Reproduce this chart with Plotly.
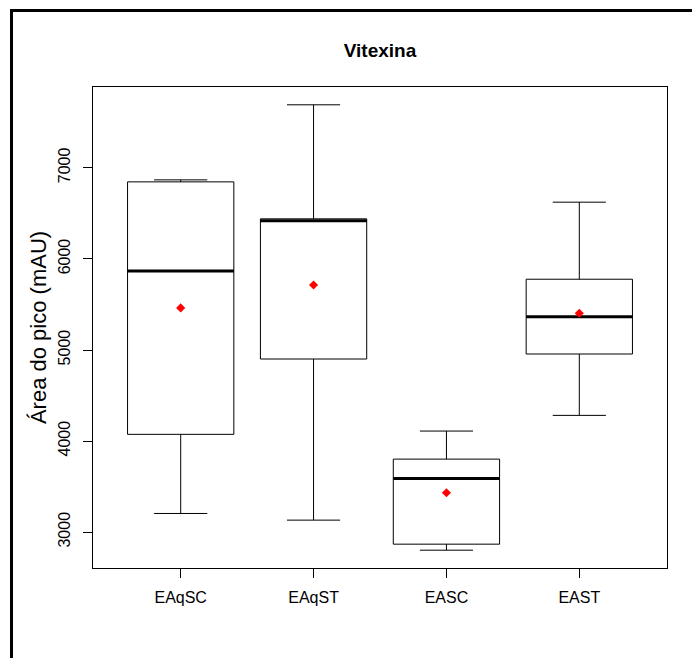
import plotly.graph_objects as go

# Vitexina peak area per extract
groups = ['EAqSC', 'EAqST', 'EASC', 'EAST']
positions = [1, 2, 3, 4]
lower = [3205, 3132, 2802, 4282]
q1 = [4074, 4901, 2868, 4956]
median = [5868, 6418, 3590, 5366]
q3 = [6846, 6440, 3802, 5777]
upper = [6868, 7692, 4110, 6623]
means = [5462, 5714, 3432, 5403]
y_ticks = [3000, 4000, 5000, 6000, 7000]

FONT = 'Liberation Sans'
BOX_W = 0.8

# plot area in figure pixels (the page adds an 8px body margin)
L, R, T, B = 85, 41, 79, 98
PW, PH = 700 - L - R, 658 - T - B

data = []

data.append(go.Box(x=positions, q1=q1, median=median, q3=q3,
                   lowerfence=lower, upperfence=upper,
                   width=BOX_W, whiskerwidth=0.5,
                   fillcolor='white', line=dict(color='black', width=1),
                   boxpoints=False, hoverinfo='skip', showlegend=False))

# thick median bars, like R's boxplot
for pos, med in zip(positions, median):
    data.append(go.Scatter(x=[pos - BOX_W / 2, pos + BOX_W / 2], y=[med, med],
                           mode='lines', line=dict(color='black', width=3),
                           hoverinfo='skip', showlegend=False))

data.append(go.Scatter(x=positions, y=means, mode='markers',
                       marker=dict(symbol='diamond', size=7, color='red'),
                       hoverinfo='skip', showlegend=False))

ymin, ymax = min(lower), max(upper)
pad = (ymax - ymin) * 0.04
xpad = (positions[-1] - positions[0] + 1) * 0.04

layout = go.Layout(
    width=700, height=658,
    margin=dict(l=L, r=R, t=T, b=B),
    paper_bgcolor='white', plot_bgcolor='white',
    font=dict(family=FONT, size=16, color='black'),
    title=dict(text='Vitexina', x=0.5, xref='paper', xanchor='center',
               y=1 - 42 / 658, yref='container', yanchor='middle',
               font=dict(family=FONT, size=19, color='black', weight='bold')),
    xaxis=dict(range=[positions[0] - 0.5 - xpad, positions[-1] + 0.5 + xpad],
               tickvals=positions, ticktext=groups,
               showgrid=False, zeroline=False,
               showline=True, mirror=True, linecolor='black', linewidth=1,
               ticks='outside', ticklen=9, tickcolor='black',
               ticklabelstandoff=6,
               tickfont=dict(family=FONT, size=16, color='black')),
    yaxis=dict(range=[ymin - pad, ymax + pad],
               tickvals=y_ticks, ticktext=[str(v) for v in y_ticks],
               tickangle=-90,
               showgrid=False, zeroline=False,
               showline=True, mirror=True, linecolor='black', linewidth=1,
               ticks='outside', ticklen=9, tickcolor='black',
               ticklabelstandoff=7,
               tickfont=dict(family=FONT, size=16, color='black'),
               title=dict(text='Área do pico (mAU)', standoff=2,
                          font=dict(family=FONT, size=22, color='black'))),
    shapes=[dict(type='rect', xref='paper', yref='paper',
                 x0=(3.5 - L) / PW, x1=(730 - L) / PW,
                 y0=(T + PH - 690) / PH, y1=(T + PH - 2.5) / PH,
                 line=dict(color='black', width=3), layer='above')],
)

fig = go.Figure(data=data, layout=layout)

fig.write_html("out.html")
